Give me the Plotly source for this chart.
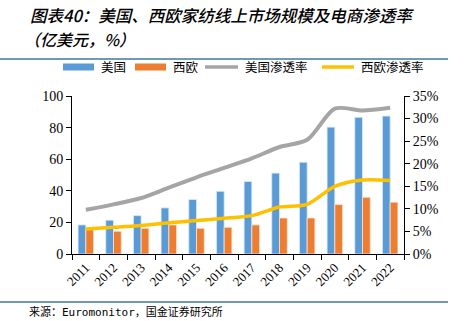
import plotly.graph_objects as go

years = ["2011", "2012", "2013", "2014", "2015", "2016", "2017", "2018", "2019", "2020", "2021", "2022"]
us_market = [18.4, 21.4, 24.3, 29.2, 34.5, 39.7, 45.9, 51.2, 58.1, 80.3, 86.5, 87.3]
we_market = [15.4, 14.4, 16.3, 18.4, 16.3, 16.9, 18.4, 22.8, 22.8, 31.3, 35.9, 32.8]
us_pen = [9.8, 11.0, 12.4, 14.7, 17.0, 19.1, 21.2, 23.7, 25.3, 32.2, 31.8, 32.4]
we_pen = [5.55, 5.9, 6.3, 6.9, 7.4, 7.9, 8.5, 10.4, 11.0, 15.0, 16.4, 16.3]

names = ["美国", "西欧", "美国渗透率", "西欧渗透率"]
c_blue, c_orange, c_gray, c_yellow = "#5B9BD5", "#ED7D31", "#A5A5A5", "#FFC000"

fig = go.Figure()
fig.add_trace(go.Bar(x=years, y=us_market, name=names[0], marker=dict(color=c_blue, line=dict(color="#DDEBF7", width=0.8))))
fig.add_trace(go.Bar(x=years, y=we_market, name=names[1], marker=dict(color=c_orange, line=dict(color="#FBE5D6", width=0.8))))
fig.add_trace(go.Scatter(x=years, y=us_pen, name=names[2], yaxis="y2", mode="lines",
                         line=dict(color=c_gray, width=4, shape="spline", smoothing=0.8)))
fig.add_trace(go.Scatter(x=years, y=we_pen, name=names[3], yaxis="y2", mode="lines",
                         line=dict(color=c_yellow, width=3.5, shape="spline", smoothing=0.8)))

serif = "Liberation Serif, Times New Roman, serif"
fig.update_layout(
    width=465, height=321,
    margin=dict(l=72, r=61, t=96, b=67),
    paper_bgcolor="white", plot_bgcolor="white",
    showlegend=False,
    barmode="group", bargap=0.44, bargroupgap=0,
    xaxis=dict(type="category", showline=True, linecolor="black", linewidth=1,
               ticks="outside", tickson="boundaries", ticklen=5, tickcolor="black",
               tickangle=-45, tickfont=dict(family=serif, size=13, color="black"),
               showgrid=False, zeroline=False),
    yaxis=dict(range=[0, 100], dtick=20, showline=True, linecolor="black", linewidth=1,
               ticks="outside", ticklen=5, tickcolor="black", showgrid=False, zeroline=False,
               tickfont=dict(family=serif, size=14, color="black")),
    yaxis2=dict(range=[0, 35], dtick=5, overlaying="y", side="right", ticksuffix="%",
                showline=True, linecolor="black", linewidth=1, ticks="outside", ticklen=5,
                tickcolor="black", showgrid=False, zeroline=False,
                tickfont=dict(family=serif, size=14, color="black")),
)


def px_x(x):
    return (x - 72) / 332


def px_y(y):
    return (321 - 67 - y) / 158


cjk = "Noto Sans CJK SC"
# title
fig.add_annotation(text="图表40：美国、西欧家纺线上市场规模及电商渗透率", x=px_x(28), y=px_y(15),
                   xref="paper", yref="paper", xanchor="left", yanchor="middle", showarrow=False,
                   font=dict(family=cjk, size=16.5, color="black", style="italic", weight=500))
fig.add_annotation(text="（亿美元，%）", x=px_x(22), y=px_y(38.5),
                   xref="paper", yref="paper", xanchor="left", yanchor="middle", showarrow=False,
                   font=dict(family=cjk, size=16, color="black", style="italic", weight=500))
# rules
fig.add_shape(type="line", xref="paper", yref="paper", x0=px_x(0), x1=px_x(448),
              y0=px_y(59), y1=px_y(59), line=dict(color="#41789A", width=1.5))
fig.add_shape(type="line", xref="paper", yref="paper", x0=px_x(0), x1=px_x(448),
              y0=px_y(302), y1=px_y(302), line=dict(color="#41789A", width=1.5))
fig.add_annotation(text="来源：Euromonitor，国金证券研究所", x=px_x(27), y=px_y(311.5),
                   xref="paper", yref="paper", xanchor="left", yanchor="middle", showarrow=False,
                   font=dict(family="DejaVu Sans Mono, " + cjk, size=11, color="black"))

# custom legend
legend = [(63, 94, names[0], c_blue, "rect"), (135, 166, names[1], c_orange, "rect"),
          (205, 238, names[2], c_gray, "line"), (322, 354, names[3], c_yellow, "line")]
for x0, x1, label, col, kind in legend:
    if kind == "rect":
        fig.add_shape(type="rect", xref="paper", yref="paper", x0=px_x(x0), x1=px_x(x1),
                      y0=px_y(70.5), y1=px_y(63.5), fillcolor=col, line=dict(width=0))
    else:
        fig.add_shape(type="line", xref="paper", yref="paper", x0=px_x(x0), x1=px_x(x1),
                      y0=px_y(67), y1=px_y(67), line=dict(color=col, width=3.5))
    fig.add_annotation(text=label, x=px_x(x1 + 5), y=px_y(67), xref="paper", yref="paper",
                       xanchor="left", yanchor="middle", showarrow=False,
                       font=dict(family=cjk, size=12.5, color="black"))

fig.write_html("out.html")
